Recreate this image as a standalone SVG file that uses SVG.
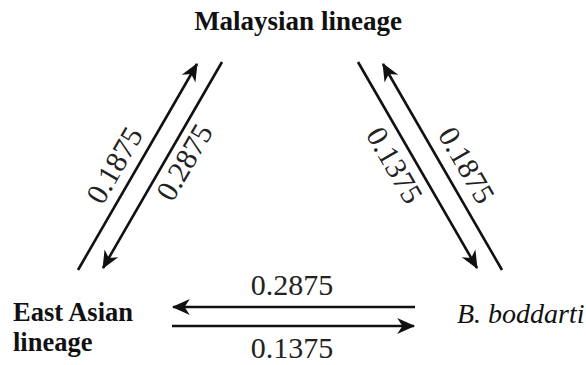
<svg xmlns="http://www.w3.org/2000/svg" width="586" height="365" viewBox="0 0 586 365">
<style>
text{font-family:'Liberation Serif','Times New Roman',serif}
.bold{font-weight:bold;font-size:27px;fill:#111}
.lbl{font-weight:bold;font-size:26.5px;fill:#111}
.ital{font-style:italic;font-size:28px;fill:#111}
.num{font-size:30px;fill:#222}
.edge{stroke:#111;stroke-width:2.6;fill:none}
</style>
<defs>
<marker id="ah" markerUnits="userSpaceOnUse" markerWidth="20" markerHeight="20" viewBox="-17 -9 19 18" refX="0" refY="0" orient="auto">
<path d="M1,0 L-16,-7.5 L-11,0 L-16,7.5 Z" fill="#111"/>
</marker>
</defs>
<g id="malaysian"><text class="bold" x="298" y="30" text-anchor="middle">Malaysian lineage</text></g>
<g id="eastasian"><text class="lbl" x="13" y="321">East Asian</text><text class="lbl" x="13" y="351">lineage</text></g>
<g id="boddarti"><text class="ital" x="457" y="323">B. boddarti</text></g>
<g id="connectors">
<line class="edge" x1="78" y1="270" x2="197" y2="64" marker-end="url(#ah)"/>
<line class="edge" x1="222" y1="62" x2="103" y2="268" marker-end="url(#ah)"/>
<line class="edge" x1="358" y1="62" x2="477" y2="268" marker-end="url(#ah)"/>
<line class="edge" x1="502" y1="270" x2="383" y2="64" marker-end="url(#ah)"/>
<line class="edge" x1="415" y1="307" x2="173" y2="307" marker-end="url(#ah)"/>
<line class="edge" x1="172" y1="326" x2="414" y2="326" marker-end="url(#ah)"/>
<text class="num" text-anchor="middle" dominant-baseline="central" transform="translate(114,165) rotate(-60)">0.1875</text>
<text class="num" text-anchor="middle" dominant-baseline="central" transform="translate(184,162) rotate(-60)">0.2875</text>
<text class="num" text-anchor="middle" dominant-baseline="central" transform="translate(395,165) rotate(60)">0.1375</text>
<text class="num" text-anchor="middle" dominant-baseline="central" transform="translate(467,165) rotate(60)">0.1875</text>
<text class="num" x="292" y="295" text-anchor="middle">0.2875</text>
<text class="num" x="292" y="358" text-anchor="middle">0.1375</text>
</g>
</svg>
